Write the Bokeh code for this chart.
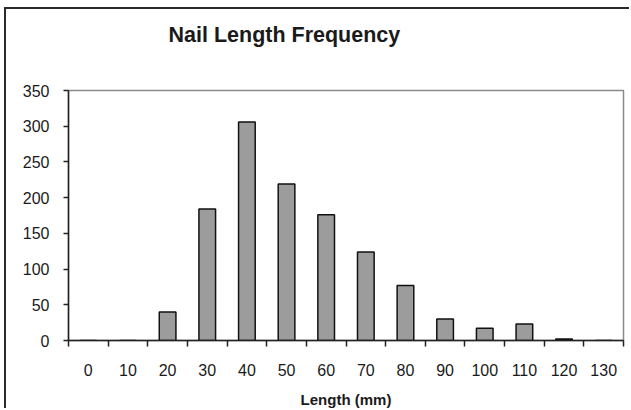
from bokeh.plotting import figure
from bokeh.models import FixedTicker, Range1d, Title
from bokeh.embed import file_html
from bokeh.resources import INLINE

# Data
lengths = [0, 10, 20, 30, 40, 50, 60, 70, 80, 90, 100, 110, 120, 130]
counts = [0, 0, 40, 184, 306, 219, 176, 124, 77, 30, 17, 23, 2, 0]
y_ticks = [0, 50, 100, 150, 200, 250, 300, 350]
title_text = "Nail Length Frequency"
x_title = "Length (mm)"

FONT = "Liberation Sans"
TXT = "#1a1a1a"

p = figure(width=625, height=401, output_backend="svg", toolbar_location=None,
           x_range=Range1d(-5, 135), y_range=Range1d(0, 350),
           min_border_left=62, min_border_right=8, min_border_top=81,
           min_border_bottom=69,
           styles={"margin-left": "6px", "margin-top": "9px",
                   "box-shadow": "-2px -2px 0 0 #2a2a2a"})
p.background_fill_color = "white"
p.border_fill_color = "white"
p.outline_line_color = "#8a8a8a"
p.outline_line_width = 1.5
p.xgrid.visible = False
p.ygrid.visible = False

p.vbar(x=lengths, top=counts, width=4.2, fill_color="#9c9c9c",
       line_color="#111111", line_width=1.5)

# x axis: labels at centres, tick marks at category boundaries
xa = p.xaxis[0]
xa.ticker = FixedTicker(ticks=lengths,
                        minor_ticks=[v - 5 for v in lengths] + [lengths[-1] + 5])
xa.major_tick_out = 0
xa.major_tick_in = 0
xa.minor_tick_out = 6
xa.minor_tick_in = 0
xa.minor_tick_line_color = "#222"
xa.minor_tick_line_width = 1.5
xa.axis_line_color = "#222"
xa.axis_line_width = 1.5
xa.major_label_text_font = FONT
xa.major_label_text_font_size = "16px"
xa.major_label_text_color = TXT
xa.major_label_standoff = 17
xa.axis_label = x_title
xa.axis_label_text_font = FONT
xa.axis_label_text_font_style = "bold"
xa.axis_label_text_font_size = "15px"
xa.axis_label_text_color = TXT
xa.axis_label_standoff = 12

ya = p.yaxis[0]
ya.ticker = FixedTicker(ticks=y_ticks)
ya.minor_tick_line_color = None
ya.major_tick_out = 5
ya.major_tick_in = 0
ya.major_tick_line_color = "#222"
ya.major_tick_line_width = 1.5
ya.axis_line_color = "#222"
ya.axis_line_width = 1.5
ya.major_label_text_font = FONT
ya.major_label_text_font_size = "16px"
ya.major_label_text_color = TXT
ya.major_label_standoff = 14

# empty spacer between the plot frame and the chart title
spacer = Title(text=" ", text_font_size="2px", standoff=26)
p.add_layout(spacer, "above")

t = Title(text=title_text, align="left", offset=100, standoff=24,
          vertical_align="top",
          text_font=FONT, text_font_size="21.5px", text_font_style="bold",
          text_color=TXT)
p.add_layout(t, "above")

open("out.html", "w").write(file_html(p, INLINE))
